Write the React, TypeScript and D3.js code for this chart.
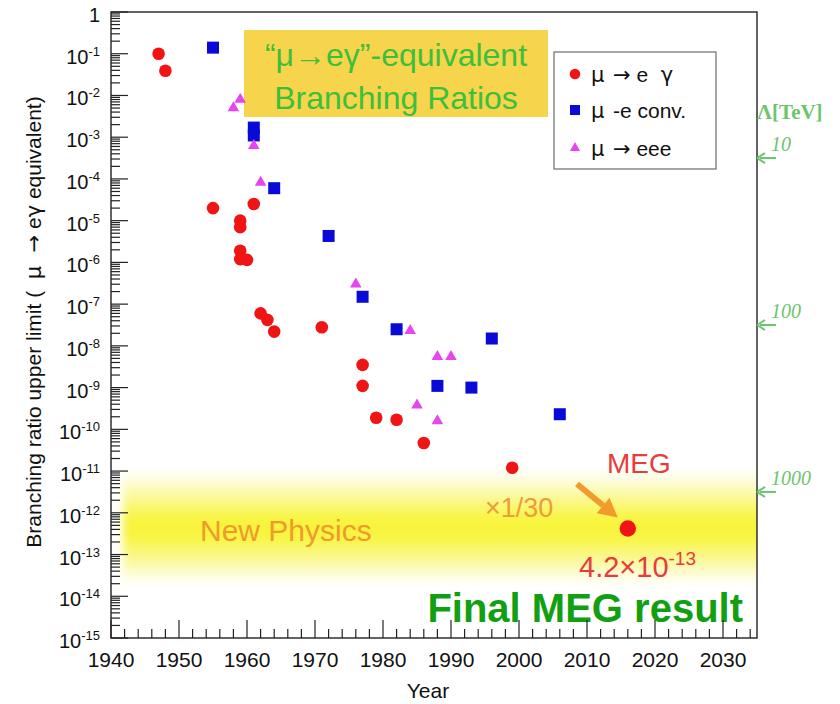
import * as d3 from "d3";
import React, { useRef, useEffect } from "react";

const width = 840;
const height = 704;
const frame = { left: 111, right: 757, top: 12, bottom: 638 };

// mu -> e gamma upper limits
const muEGammaYears = [1947, 1948, 1955, 1959, 1959, 1959, 1959, 1960, 1961, 1962, 1963, 1964, 1971, 1977, 1977, 1979, 1982, 1986, 1999];
const muEGammaLimits = [1.0e-1, 3.9e-2, 2.0e-5, 1.0e-5, 7.0e-6, 1.9e-6, 1.2e-6, 1.15e-6, 2.5e-5, 6.0e-8, 4.2e-8, 2.2e-8, 2.8e-8, 3.5e-9, 1.1e-9, 1.9e-10, 1.7e-10, 4.7e-11, 1.2e-11];

// final MEG result
const megYear = 2016;
const megLimit = 4.2e-13;

// mu-e conversion
const muEConvYears = [1955, 1961, 1961, 1964, 1972, 1977, 1982, 1988, 1993, 1996, 2006];
const muEConvLimits = [1.4e-1, 1.7e-3, 1.1e-3, 6.0e-5, 4.3e-6, 1.5e-7, 2.5e-8, 1.1e-9, 1.0e-9, 1.5e-8, 2.3e-10];

// mu -> eee
const mu3eYears = [1958, 1959, 1961, 1962, 1976, 1984, 1985, 1988, 1988, 1990];
const mu3eLimits = [5.0e-3, 8.0e-3, 6.3e-4, 8.3e-5, 3.0e-7, 2.3e-8, 3.8e-10, 5.5e-9, 1.6e-10, 5.5e-9];

const yearTicks = [1940, 1950, 1960, 1970, 1980, 1990, 2000, 2010, 2020, 2030];
const exponents = d3.range(-15, 1);
const lambdaTicks = [10, 100, 1000];
const newPhysicsBand = [1.3e-11, 1.6e-14];

const red = "#f01414";
const blue = "#0a0ad8";
const magenta = "#e645f0";
const font = "'Liberation Sans', Arial, Helvetica, sans-serif";
const symFont = "'DejaVu Sans', sans-serif";
const serif = "'Liberation Serif', 'DejaVu Serif', serif";

export default function App() {
  const ref = useRef<SVGSVGElement>(null);

  useEffect(() => {
    if (!ref.current) return;
    const svg = d3.select(ref.current);
    svg.selectAll("*").remove();

    const x = d3.scaleLinear().domain([1940, 2035]).range([frame.left, frame.right]);
    const y = d3.scaleLog().domain([1e-15, 1]).range([frame.bottom, frame.top]);
    const lambda = d3.scaleLog().domain([10, 1000]).range([y(Math.sqrt(10) * 1e-4), y(Math.sqrt(10) * 1e-12)]);

    const defs = svg.append("defs");
    const grad = defs.append("linearGradient").attr("id", "band").attr("x1", 0).attr("x2", 0).attr("y1", 0).attr("y2", 1);
    [
      [0, "#ffffff", 0],
      [0.2, "#fdfbc4", 1],
      [0.45, "#f8f43c", 1],
      [0.58, "#f8f43c", 1],
      [0.82, "#fcfab8", 1],
      [1, "#ffffff", 0],
    ].forEach(([o, c, op]) => grad.append("stop").attr("offset", o as number).attr("stop-color", c as string).attr("stop-opacity", op as number));
    defs.append("clipPath").attr("id", "frameClip").append("rect")
      .attr("x", frame.left).attr("y", frame.top)
      .attr("width", frame.right - frame.left).attr("height", frame.bottom - frame.top);
    defs.append("filter").attr("id", "soft").attr("x", -0.1).attr("y", -0.2).attr("width", 1.2).attr("height", 1.4)
      .append("feGaussianBlur").attr("stdDeviation", 4);

    svg.append("rect").attr("width", width).attr("height", height).attr("fill", "#fff");

    // new physics band
    const bandTop = y(newPhysicsBand[0]) - 6;
    const bandBottom = y(newPhysicsBand[1]) + 4;
    svg.append("g").attr("clip-path", "url(#frameClip)")
      .append("rect")
      .attr("x", frame.left + 12).attr("y", bandTop)
      .attr("width", frame.right - frame.left).attr("height", bandBottom - bandTop)
      .attr("fill", "url(#band)")
      .attr("filter", "url(#soft)");

    svg.append("text")
      .attr("x", 200).attr("y", 541)
      .attr("font-family", font).attr("font-size", 30)
      .attr("fill", "#ee9a2c")
      .text("New Physics");

    // title box
    svg.append("rect").attr("x", 244).attr("y", 30).attr("width", 304).attr("height", 87).attr("fill", "#f6d44b");
    const title = svg.append("text")
      .attr("font-family", font).attr("font-size", 32).attr("fill", "#3cbf3c")
      .attr("text-anchor", "middle");
    title.append("tspan").attr("x", 396).attr("y", 66).text("\u201Cμ\u2192eγ\u201D-equivalent");
    title.append("tspan").attr("x", 396).attr("y", 109).text("Branching Ratios");

    // data points
    svg.append("g").selectAll("circle")
      .data(d3.zip(muEGammaYears, muEGammaLimits))
      .join("circle")
      .attr("cx", d => x(d[0])).attr("cy", d => y(d[1]))
      .attr("r", 6.3).attr("fill", red);

    svg.append("circle").attr("cx", x(megYear)).attr("cy", y(megLimit)).attr("r", 8.2).attr("fill", red);

    svg.append("g").selectAll("rect")
      .data(d3.zip(muEConvYears, muEConvLimits))
      .join("rect")
      .attr("x", d => x(d[0]) - 6).attr("y", d => y(d[1]) - 6)
      .attr("width", 12).attr("height", 12).attr("fill", blue);

    const tri = d3.symbol().type(d3.symbolTriangle).size(58);
    svg.append("g").selectAll("path")
      .data(d3.zip(mu3eYears, mu3eLimits))
      .join("path")
      .attr("transform", d => `translate(${x(d[0])},${y(d[1])})`)
      .attr("d", tri).attr("fill", magenta);

    // annotations
    svg.append("text").attr("x", 607).attr("y", 473)
      .attr("font-family", font).attr("font-size", 28).attr("fill", "#e63c3c").text("MEG");
    svg.append("text").attr("x", 485).attr("y", 517)
      .attr("font-family", font).attr("font-size", 27).attr("fill", "#ee9c3a").text("×1/30");
    const meg = svg.append("text").attr("x", 579).attr("y", 577)
      .attr("font-family", font).attr("font-size", 29).attr("fill", "#e63c3c");
    meg.append("tspan").text("4.2×10");
    meg.append("tspan").attr("dy", -12).attr("font-size", 19).text("-13");

    const ax0 = [577, 484];
    const ax1 = [x(megYear) - 10, y(megLimit) - 11];
    const ang = Math.atan2(ax1[1] - ax0[1], ax1[0] - ax0[0]);
    const headLen = 19, headW = 10;
    const hb = [ax1[0] - headLen * Math.cos(ang), ax1[1] - headLen * Math.sin(ang)];
    svg.append("line")
      .attr("x1", ax0[0]).attr("y1", ax0[1]).attr("x2", hb[0]).attr("y2", hb[1])
      .attr("stroke", "#f29a2c").attr("stroke-width", 6);
    svg.append("path")
      .attr("d", `M${ax1[0]},${ax1[1]} L${hb[0] - headW * Math.sin(ang)},${hb[1] + headW * Math.cos(ang)} L${hb[0] + headW * Math.sin(ang)},${hb[1] - headW * Math.cos(ang)} Z`)
      .attr("fill", "#f29a2c");

    svg.append("text").attr("x", 743).attr("y", 622)
      .attr("text-anchor", "end")
      .attr("font-family", font).attr("font-size", 40).attr("font-weight", "bold")
      .attr("fill", "#12a012").text("Final MEG result");

    // ticks
    const axis = svg.append("g").attr("stroke", "#222").attr("stroke-width", 1.2);
    exponents.forEach(e => {
      axis.append("line").attr("x1", frame.left).attr("x2", frame.left + 17)
        .attr("y1", y(10 ** e)).attr("y2", y(10 ** e));
      if (e < 0) {
        d3.range(2, 10).forEach(m => {
          const v = m * 10 ** e;
          axis.append("line").attr("x1", frame.left).attr("x2", frame.left + 9)
            .attr("y1", y(v)).attr("y2", y(v));
        });
      }
    });
    d3.range(1940, 2036, 2).forEach(yr => {
      const len = yr % 10 === 0 ? 18 : 9;
      axis.append("line").attr("x1", x(yr)).attr("x2", x(yr))
        .attr("y1", frame.bottom).attr("y2", frame.bottom - len);
    });

    // frame
    svg.append("rect")
      .attr("x", frame.left).attr("y", frame.top)
      .attr("width", frame.right - frame.left).attr("height", frame.bottom - frame.top)
      .attr("fill", "none").attr("stroke", "#222").attr("stroke-width", 1.4);

    // tick labels
    const yl = svg.append("g").attr("font-family", font).attr("fill", "#111").attr("text-anchor", "end");
    exponents.forEach(e => {
      const t = yl.append("text").attr("x", 100).attr("y", y(10 ** e) + 10).attr("font-size", 20);
      if (e === 0) {
        t.text("1");
      } else {
        t.append("tspan").text("10");
        t.append("tspan").attr("dy", -8).attr("font-size", 13).text(String(e));
      }
    });
    svg.append("g").attr("font-family", font).attr("font-size", 21).attr("fill", "#111").attr("text-anchor", "middle")
      .selectAll("text").data(yearTicks).join("text")
      .attr("x", d => x(d)).attr("y", 667).text(d => d);

    // axis titles
    const yt = svg.append("text")
      .attr("transform", `translate(41,${(frame.top + frame.bottom) / 2 - 3}) rotate(-90)`)
      .attr("text-anchor", "middle").attr("font-family", font).attr("font-size", 21)
      .attr("fill", "#111").style("white-space", "pre");
    yt.append("tspan").text("Branching ratio upper limit (  ");
    yt.append("tspan").attr("font-family", symFont).text("μ  ");
    yt.append("tspan").attr("font-family", symFont).text("→");
    yt.append("tspan").text(" e");
    yt.append("tspan").attr("font-family", symFont).text("γ");
    yt.append("tspan").text(" equivalent)");
    svg.append("text").attr("x", 428).attr("y", 698)
      .attr("text-anchor", "middle").attr("font-family", font).attr("font-size", 21)
      .attr("fill", "#111").text("Year");

    // legend
    const lg = svg.append("g");
    lg.append("rect").attr("x", 554).attr("y", 52).attr("width", 162).attr("height", 117)
      .attr("fill", "#fff").attr("stroke", "#777").attr("stroke-width", 1.3);
    const rows = [
      { yc: 74, label: ["→", " e ", "γ"], shape: "circle" },
      { yc: 110, label: ["", "-e conv.", ""], shape: "square" },
      { yc: 148, label: ["→", " eee", ""], shape: "triangle" },
    ];
    rows.forEach(r => {
      if (r.shape === "circle") lg.append("circle").attr("cx", 575).attr("cy", r.yc).attr("r", 5.3).attr("fill", red);
      if (r.shape === "square") lg.append("rect").attr("x", 570).attr("y", r.yc - 5).attr("width", 10).attr("height", 10).attr("fill", blue);
      if (r.shape === "triangle") lg.append("path").attr("transform", `translate(575,${r.yc})`)
        .attr("d", d3.symbol().type(d3.symbolTriangle).size(45)).attr("fill", magenta);
      lg.append("text").attr("x", 591).attr("y", r.yc + 8).attr("font-family", symFont).attr("font-size", 21)
        .attr("fill", "#111").text("μ");
      const lt = lg.append("text").attr("x", 613).attr("y", r.yc + 8).attr("font-family", font).attr("font-size", 21)
        .attr("fill", "#111").style("white-space", "pre");
      if (r.label[0]) lt.append("tspan").attr("font-family", symFont).text(r.label[0]);
      lt.append("tspan").text(r.label[1]);
      if (r.label[2]) lt.append("tspan").attr("font-family", symFont).text(" " + r.label[2]);
    });

    // Lambda scale on the right
    const lam = svg.append("g").attr("fill", "#6cc46c");
    lam.append("text").attr("x", 757).attr("y", 119)
      .attr("font-family", serif).attr("font-size", 21).attr("font-weight", "bold").text("Λ[TeV]");
    lambdaTicks.forEach(l => {
      const yy = lambda(l);
      lam.append("line").attr("x1", 760).attr("x2", 776).attr("y1", yy).attr("y2", yy)
        .attr("stroke", "#6cc46c").attr("stroke-width", 2);
      lam.append("path").attr("d", `M757,${yy} L765,${yy - 5} M757,${yy} L765,${yy + 5}`)
        .attr("stroke", "#6cc46c").attr("stroke-width", 2).attr("fill", "none");
      lam.append("text").attr("x", 771).attr("y", yy - 7)
        .attr("font-family", serif).attr("font-size", 20).attr("font-style", "italic").text(l);
    });
  }, []);

  return (
    <svg
      ref={ref}
      width={width}
      height={height}
      style={{ position: "absolute", left: 0, top: 0, display: "block" }}
    />
  );
}
